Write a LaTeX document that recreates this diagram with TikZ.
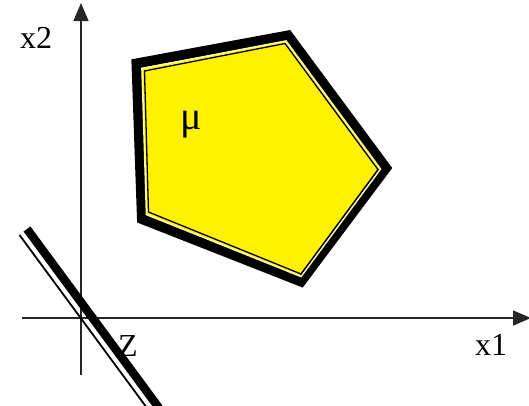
\documentclass[tikz,border=0pt]{standalone}
\usepackage{fontspec}
\setmainfont{Liberation Serif}
\usetikzlibrary{arrows.meta}
\begin{document}
\begin{tikzpicture}[x=1pt,y=-1pt,
  axis/.style={draw=black!85,line width=1.5pt,-{Triangle[width=15pt,length=18pt]}},
  lbl/.style={font=\fontsize{32}{36}\selectfont,inner sep=0pt,anchor=base},
  thickedge/.style={line width=10pt,line join=miter,draw=black},
  inneredge/.style={line width=1.3pt,line join=miter,draw=black}]
\useasboundingbox (0,0) rectangle (529,405);
% axes
\coordinate (ybot) at (81,375);
\coordinate (ytop) at (81,3);
\coordinate (xleft) at (22,318);
\coordinate (xright) at (531,318);
\draw[axis] (ybot) -- (ytop);
\draw[axis] (xleft) -- (xright);
% pentagon
\coordinate (A) at (136.5,63.5);
\coordinate (B) at (288,35.5);
\coordinate (C) at (386,168);
\coordinate (D) at (301,281.5);
\coordinate (E) at (142,219);
\fill[yellow] (A) -- (B) -- (C) -- (D) -- (E) -- cycle;
\draw[thickedge] (A) -- (B) -- (C) -- (D) -- (E) -- cycle;
\coordinate (A2) at (142,68.5);
\coordinate (B2) at (286,41);
\coordinate (C2) at (380.5,169);
\coordinate (D2) at (301,276.5);
\coordinate (E2) at (146.5,214.5);
\draw[line width=1.6pt,draw=yellow!35] (A2) -- (B2) -- (C2) -- (D2) -- (E2) -- cycle;
\coordinate (A3) at (144.5,71);
\coordinate (B3) at (285,43.5);
\coordinate (C3) at (378,169.5);
\coordinate (D3) at (301,274);
\coordinate (E3) at (148.5,212);
\draw[inneredge] (A3) -- (B3) -- (C3) -- (D3) -- (E3) -- cycle;
% Z line
\coordinate (z1) at (27,229);
\coordinate (z2) at (159,408);
\coordinate (w1) at (19.5,235);
\coordinate (w2) at (147,408);
\draw[line width=8.5pt,black] (z1) -- (z2);
\draw[line width=1.8pt,black] (w1) -- (w2);
% labels
\node[lbl] (lx2) at (36,48) {x2};
\node[lbl] (lx1) at (491,355) {x1};
\node[lbl] (lz) at (128,356) {Z};
\node[lbl,font=\fontsize{40}{44}\selectfont] (lmu) at (191,129) {μ};
\end{tikzpicture}
\end{document}
